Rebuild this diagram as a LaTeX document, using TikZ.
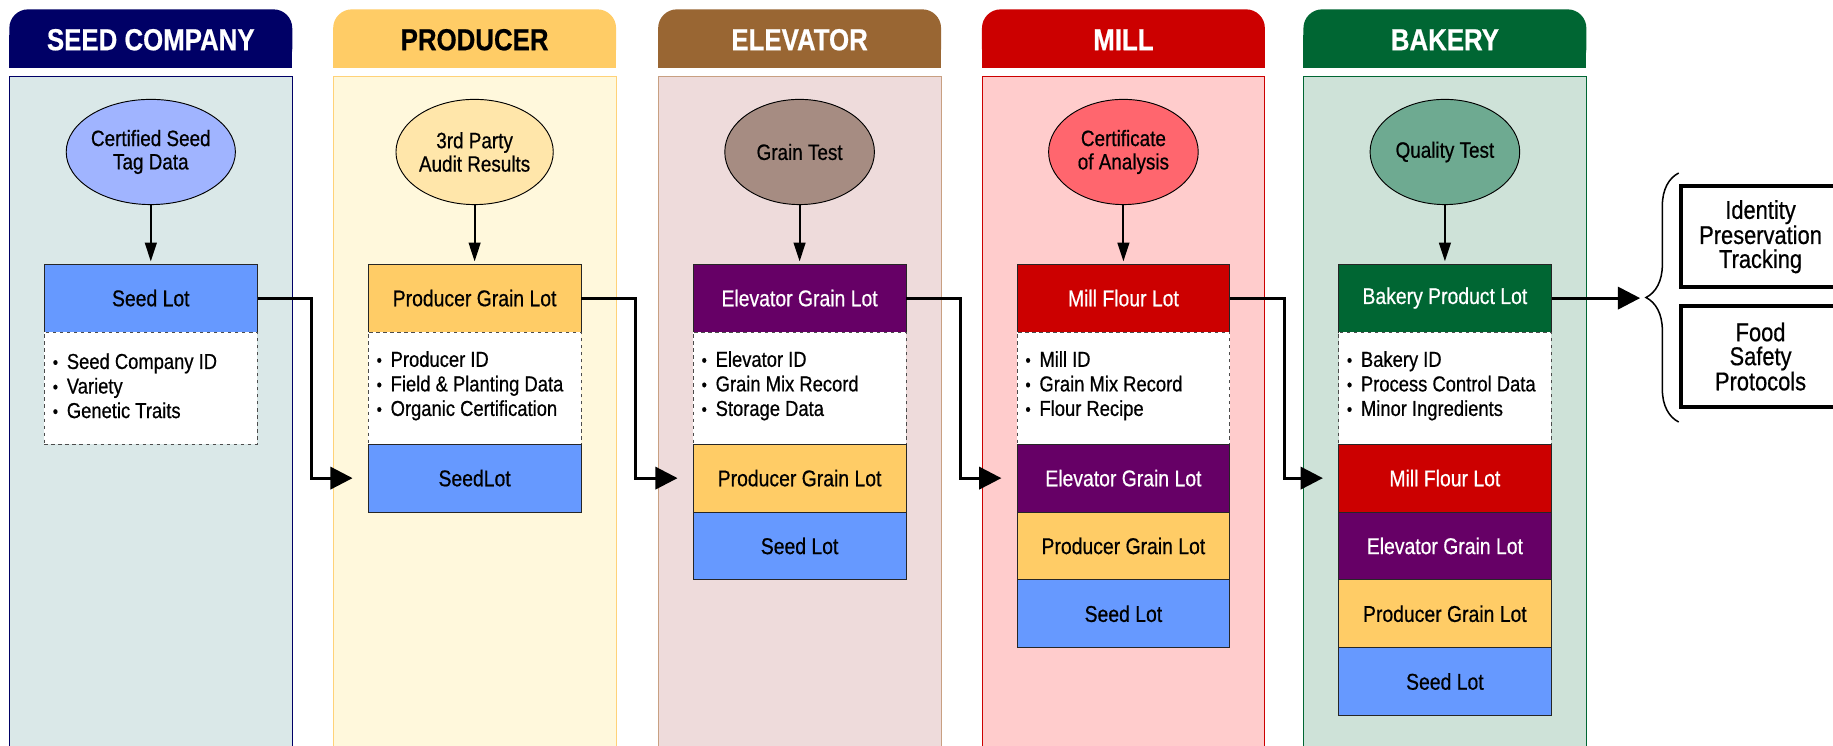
\documentclass[tikz,border=0pt]{standalone}
\usepackage{fontspec}
\setmainfont{Liberation Sans}[FakeStretch=0.85,FakeBold=0.6]
\usetikzlibrary{shapes.geometric,arrows.meta,decorations.pathreplacing}
\definecolor{seedH}{RGB}{0,0,102}
\definecolor{seedB}{RGB}{218,232,232}
\definecolor{seedE}{RGB}{160,180,255}
\definecolor{seedL}{RGB}{102,153,255}
\definecolor{prodH}{RGB}{255,204,102}
\definecolor{prodB}{RGB}{255,248,220}
\definecolor{prodD}{RGB}{255,210,120}
\definecolor{prodE}{RGB}{255,230,170}
\definecolor{elevH}{RGB}{153,102,51}
\definecolor{elevB}{RGB}{238,219,219}
\definecolor{elevD}{RGB}{200,160,130}
\definecolor{elevE}{RGB}{166,140,130}
\definecolor{elevL}{RGB}{102,0,102}
\definecolor{millH}{RGB}{204,0,0}
\definecolor{millB}{RGB}{255,204,204}
\definecolor{millE}{RGB}{255,102,110}
\definecolor{bakH}{RGB}{0,102,51}
\definecolor{bakB}{RGB}{206,226,216}
\definecolor{bakE}{RGB}{110,170,145}
\newcommand\bul{\makebox[12pt][l]{\raisebox{0.5pt}{\fontsize{15}{15}\selectfont •}}}
\newcommand\colshape[4]{%
  \fill[#2,rounded corners=16pt] (#1,8) rectangle (#1+242,58);
  \fill[#2] (#1,30) rectangle (#1+242,58);
  \filldraw[fill=#3,draw=#4,line width=0.8pt] (#1,65) rectangle (#1+242,660);
}
\begin{document}
\begin{tikzpicture}[x=1pt,y=-1pt,
  headtext/.style={font=\fontsize{26}{26}\selectfont\bfseries,inner sep=0},
  ell/.style={ellipse,draw,line width=0.8pt,minimum width=128pt,minimum height=90pt,inner sep=0,align=center,font=\fontsize{19}{20}\selectfont},
  lot/.style={rectangle,draw=black!85,line width=0.8pt,minimum width=182pt,minimum height=58pt,inner sep=0,font=\fontsize{19.5}{20}\selectfont},
  det/.style={rectangle,draw=black!70,dashed,line width=0.7pt,fill=white,minimum width=182pt,minimum height=96pt,inner sep=0},
  lst/.style={anchor=west,align=left,inner sep=0,font=\fontsize{18.5}{21}\selectfont},
  conn/.style={line width=2.6pt,-{Triangle[length=19pt,width=19pt]},shorten >=13pt},
  varr/.style={line width=1.7pt,-{Triangle[length=16pt,width=10pt]},shorten >=2pt},
  outbox/.style={draw,line width=3.4pt,minimum width=136pt,minimum height=86pt,inner sep=0,align=center,font=\fontsize{22}{20.5}\selectfont}
]
\useasboundingbox (0,0) rectangle (1568,638);
\clip (0,0) rectangle (1568,638);
\fill[white] (0,0) rectangle (1568,638);
% column shapes
\colshape{8}{seedH}{seedB}{seedH}
\colshape{285}{prodH}{prodB}{prodD}
\colshape{563}{elevH}{elevB}{elevD}
\colshape{840}{millH}{millB}{millH}
\colshape{1115}{bakH}{bakB}{bakH}
% headers
\node[headtext,text=white] (h1) at (129,34) {SEED COMPANY};
\node[headtext,text=black] (h2) at (406,34) {PRODUCER};
\node[headtext,text=white] (h3) at (684,34) {ELEVATOR};
\node[headtext,text=white] (h4) at (961,34) {MILL};
\node[headtext,text=white] (h5) at (1236,34) {BAKERY};
% ellipses
\node[ell,fill=seedE] (e1) at (129,130) {Certified Seed\\Tag Data};
\node[ell,fill=prodE] (e2) at (406,130) {3rd Party\\Audit Results};
\node[ell,fill=elevE] (e3) at (684,130) {Grain Test};
\node[ell,fill=millE] (e4) at (961,130) {Certificate\\of Analysis};
\node[ell,fill=bakE] (e5) at (1236,130) {Quality Test};
% main lots
\node[lot,fill=seedL] (l1) at (129,255) {Seed Lot};
\node[lot,fill=prodH] (l2) at (406,255) {Producer Grain Lot};
\node[lot,fill=elevL,text=white] (l3) at (684,255) {Elevator Grain Lot};
\node[lot,fill=millH,text=white] (l4) at (961,255) {Mill Flour Lot};
\node[lot,fill=bakH,text=white] (l5) at (1236,255) {Bakery Product Lot};
% detail boxes
\node[det] (d1) at (129,332) {};
\node[det] (d2) at (406,332) {};
\node[det] (d3) at (684,332) {};
\node[det] (d4) at (961,332) {};
\node[det] (d5) at (1236,332) {};
\node[lst] (t1) at (45,330) {\bul Seed Company ID\\\bul Variety\\\bul Genetic Traits};
\node[lst] (t2) at (322,330) {\bul Producer ID\\\bul Field \& Planting Data\\\bul Organic Certification};
\node[lst] (t3) at (600,330) {\bul Elevator ID\\\bul Grain Mix Record\\\bul Storage Data};
\node[lst] (t4) at (877,330) {\bul Mill ID\\\bul Grain Mix Record\\\bul Flour Recipe};
\node[lst] (t5) at (1152,330) {\bul Bakery ID\\\bul Process Control Data\\\bul Minor Ingredients};
% stacked lots
\node[lot,fill=seedL] (s2a) at (406,409) {SeedLot};
\node[lot,fill=prodH] (s3a) at (684,409) {Producer Grain Lot};
\node[lot,fill=seedL] (s3b) at (684,467) {Seed Lot};
\node[lot,fill=elevL,text=white] (s4a) at (961,409) {Elevator Grain Lot};
\node[lot,fill=prodH] (s4b) at (961,467) {Producer Grain Lot};
\node[lot,fill=seedL] (s4c) at (961,525) {Seed Lot};
\node[lot,fill=millH,text=white] (s5a) at (1236,409) {Mill Flour Lot};
\node[lot,fill=elevL,text=white] (s5b) at (1236,467) {Elevator Grain Lot};
\node[lot,fill=prodH] (s5c) at (1236,525) {Producer Grain Lot};
\node[lot,fill=seedL] (s5d) at (1236,583) {Seed Lot};
% vertical arrows
\draw[varr] (e1) -- (l1);
\draw[varr] (e2) -- (l2);
\draw[varr] (e3) -- (l3);
\draw[varr] (e4) -- (l4);
\draw[varr] (e5) -- (l5);
% connectors
\draw[conn] (l1.east) -- ++(46,0) |- (s2a.west);
\draw[conn] (l2.east) -- ++(46,0) |- (s3a.west);
\draw[conn] (l3.east) -- ++(46,0) |- (s4a.west);
\draw[conn] (l4.east) -- ++(46,0) |- (s5a.west);
\coordinate (bt) at (1403,255);
\draw[conn,shorten >=0pt] (l5.east) -- (bt);
% brace
\coordinate (bb) at (1436,361);
\coordinate (btop) at (1436,148);
\draw[decorate,decoration={brace,amplitude=28pt},line width=1.3pt] (bb) -- (btop);
% outcome boxes
\node[outbox] (o1) at (1506,202.5) {Identity\\Preservation\\Tracking};
\node[outbox] (o2) at (1506,305) {Food\\Safety\\Protocols};
\end{tikzpicture}
\end{document}
